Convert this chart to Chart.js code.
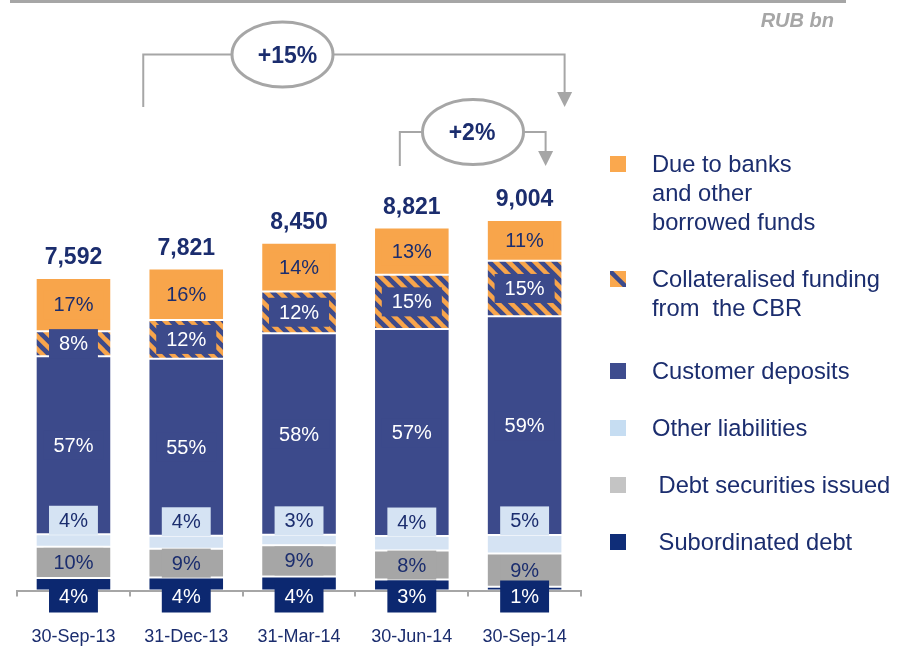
<!DOCTYPE html>
<html>
<head>
<meta charset="utf-8">
<script src="https://cdn.jsdelivr.net/npm/chart.js@4/dist/chart.umd.min.js"></script>
<style>
  html, body { margin: 0; padding: 0; background: #ffffff; }
  #wrap { position: relative; width: 906px; height: 649px; }
</style>
</head>
<body>
<div id="wrap"><canvas id="funding" width="906" height="649"></canvas></div>
<script>
// Liabilities structure, RUB bn, by reporting date
const categories = ['30-Sep-13', '31-Dec-13', '31-Mar-14', '30-Jun-14', '30-Sep-14'];
const totals = [7592, 7821, 8450, 8821, 9004];

// Shares of total liabilities, %, stacked bottom to top
const pctSubordinated = [4, 4, 4, 3, 1];
const pctDebtSecurities = [10, 9, 9, 8, 9];
const pctOtherLiabilities = [4, 4, 3, 4, 5];
const pctCustomerDeposits = [57, 55, 58, 57, 59];
const pctCbrFunding = [8, 12, 12, 15, 15];
const pctDueToBanks = [17, 16, 14, 13, 11];

// Growth call-outs: from index, to index, text
const growthFrom = [1, 3];
const growthTo = [4, 4];
const growthText = ['+15%', '+2%'];

const unitLabel = 'RUB bn';

const FONT = '"Liberation Sans", Arial, Helvetica, sans-serif';
const INK = '#1B2D6E';
const GREY = '#A6A6A6';
const ORANGE = '#F8A54B';
const BLUE = '#3C4A8B';

const amounts = pct => pct.map((p, i) => totals[i] * p / 100);

// Diagonal orange stripes on blue for the CBR funding segment
function stripePattern() {
  const p = 13;
  const c = document.createElement('canvas');
  c.width = p; c.height = p;
  const g = c.getContext('2d');
  g.fillStyle = BLUE;
  g.fillRect(0, 0, p, p);
  g.strokeStyle = ORANGE;
  g.lineWidth = 4.5;
  g.lineCap = 'square';
  for (let k = -1; k <= 1; k++) {
    g.beginPath();
    g.moveTo(0, k * p);
    g.lineTo(p, p + k * p);
    g.stroke();
  }
  return g.createPattern(c, 'repeat');
}

const seg = (name, pct, fill, legendFill, labelFill, labelInk, anchor, shift) => ({
  label: name.join(' '),
  legendLines: name,
  pct: pct,
  data: amounts(pct),
  backgroundColor: fill,
  legendFill: legendFill,
  labelFill: labelFill,
  labelInk: labelInk,
  labelAnchor: anchor,
  labelShift: shift,
  borderWidth: 1,
  borderColor: 'rgba(255,255,255,0.3)',
  borderSkipped: false,
  barPercentage: 0.67,
  categoryPercentage: 1.0
});

const datasets = [
  seg([' Subordinated debt'], pctSubordinated, '#0C2870', '#0F2D78', '#0C2870', '#ffffff', 'base', 6),
  seg([' Debt securities issued'], pctDebtSecurities, '#A6A6A6', '#C4C4C4', '#A6A6A6', INK, 'center', 0),
  seg(['Other liabilities'], pctOtherLiabilities, '#D5E3F3', '#C6DDF2', '#D5E3F3', INK, 'top', -14),
  seg(['Customer deposits'], pctCustomerDeposits, BLUE, '#3E4C8E', BLUE, '#ffffff', 'center', 0),
  seg(['Collateralised funding', 'from  the CBR'], pctCbrFunding, stripePattern(), 'hatch', BLUE, '#ffffff', 'center', 0),
  seg(['Due to banks', 'and other', 'borrowed funds'], pctDueToBanks, ORANGE, '#FAA84E', ORANGE, INK, 'center', 0)
];

// Percentage boxes inside the segments and totals above the bars
const segmentLabels = {
  id: 'segmentLabels',
  afterDatasetsDraw(chart) {
    const ctx = chart.ctx;
    ctx.save();
    ctx.textAlign = 'center';
    ctx.textBaseline = 'middle';
    for (let d = chart.data.datasets.length - 1; d >= 0; d--) {
      const ds = chart.data.datasets[d];
      const meta = chart.getDatasetMeta(d);
      meta.data.forEach((el, i) => {
        const top = Math.min(el.y, el.base);
        const bottom = Math.max(el.y, el.base);
        let cy = (top + bottom) / 2;
        if (ds.labelAnchor === 'top') cy = top + ds.labelShift;
        if (ds.labelAnchor === 'base') cy = bottom + ds.labelShift;
        const text = ds.pct[i] + '%';
        ctx.font = '20px ' + FONT;
        const w = ctx.measureText(text).width + 20;
        const h = ds.labelAnchor === 'base' ? 32 : 29;
        ctx.fillStyle = ds.labelFill;
        ctx.fillRect(el.x - w / 2, cy - h / 2, w, h);
        ctx.fillStyle = ds.labelInk;
        ctx.fillText(text, el.x, cy + 1);
      });
    }
    const topMeta = chart.getDatasetMeta(chart.data.datasets.length - 1);
    ctx.font = 'bold 23px ' + FONT;
    ctx.fillStyle = INK;
    topMeta.data.forEach((el, i) => {
      ctx.fillText(totals[i].toLocaleString('en-US'), el.x, Math.min(el.y, el.base) - 20);
    });
    ctx.restore();
  }
};

// Legend, unit caption, header rule and growth call-outs
const decorations = {
  id: 'decorations',
  afterDraw(chart) {
    const ctx = chart.ctx;
    ctx.save();

    // header rule
    ctx.strokeStyle = GREY;
    ctx.lineWidth = 3;
    ctx.beginPath();
    ctx.moveTo(10, 1.5);
    ctx.lineTo(846, 1.5);
    ctx.stroke();

    // unit caption
    ctx.font = 'italic bold 20px ' + FONT;
    ctx.fillStyle = GREY;
    ctx.textAlign = 'right';
    ctx.textBaseline = 'middle';
    ctx.fillText(unitLabel, 834, 21);

    // legend, top series first
    const lx = 610, tx = 652, lineH = 29;
    let ly = 164;
    ctx.textAlign = 'left';
    ctx.font = '23.7px ' + FONT;
    for (let d = chart.data.datasets.length - 1; d >= 0; d--) {
      const ds = chart.data.datasets[d];
      const s = 16;
      const mx = lx, my = ly - 8;
      if (ds.legendFill === 'hatch') {
        ctx.fillStyle = '#FAA84E';
        ctx.fillRect(mx, my, s, s);
        ctx.save();
        ctx.beginPath();
        ctx.rect(mx, my, s, s);
        ctx.clip();
        ctx.strokeStyle = BLUE;
        ctx.lineWidth = 4.5;
        ctx.beginPath();
        ctx.moveTo(mx - 2, my - 2);
        ctx.lineTo(mx + s + 2, my + s + 2);
        ctx.stroke();
        ctx.restore();
      } else {
        ctx.fillStyle = ds.legendFill;
        ctx.fillRect(mx, my, s, s);
      }
      ctx.fillStyle = INK;
      ds.legendLines.forEach((line, k) => ctx.fillText(line, tx, ly + k * lineH + 1));
      ly += ds.legendLines.length * lineH + 28 + (ds.legendLines.length === 2 ? 6 : 0);
    }

    // growth call-outs
    const xs = chart.scales.x;
    const callouts = [
      { y: 54.5, drop: 107, left: xs.getPixelForValue(growthFrom[0]) - 43, right: xs.getPixelForValue(growthTo[0]) + 40, cx: 282.5, dx: 5 },
      { y: 132, drop: 166, left: xs.getPixelForValue(growthFrom[1]) - 12, right: xs.getPixelForValue(growthTo[1]) + 21, cx: 473, dx: -1 }
    ];
    callouts.forEach((c, k) => {
      ctx.strokeStyle = GREY;
      ctx.fillStyle = GREY;
      ctx.lineWidth = 2;
      ctx.beginPath();
      ctx.moveTo(c.left, c.drop);
      ctx.lineTo(c.left, c.y);
      ctx.lineTo(c.right, c.y);
      ctx.lineTo(c.right, c.drop - 14);
      ctx.stroke();
      ctx.beginPath();
      ctx.moveTo(c.right - 7.5, c.drop - 15);
      ctx.lineTo(c.right + 7.5, c.drop - 15);
      ctx.lineTo(c.right, c.drop);
      ctx.closePath();
      ctx.fill();
      ctx.beginPath();
      ctx.ellipse(c.cx, c.y, 50.5, 32.5, 0, 0, Math.PI * 2);
      ctx.fillStyle = '#ffffff';
      ctx.fill();
      ctx.lineWidth = 3;
      ctx.stroke();
      ctx.font = 'bold 23px ' + FONT;
      ctx.fillStyle = INK;
      ctx.textAlign = 'center';
      ctx.fillText(growthText[k], c.cx + c.dx, c.y + 2);
    });

    ctx.restore();
  }
};

new Chart(document.getElementById('funding'), {
  type: 'bar',
  data: { labels: categories, datasets: datasets },
  options: {
    responsive: false,
    animation: false,
    events: [],
    layout: { padding: { left: 14.4, right: 325, top: 178.9, bottom: 0 } },
    plugins: { legend: { display: false }, tooltip: { enabled: false } },
    scales: {
      x: {
        stacked: true,
        offset: true,
        grid: { display: true, offset: true, drawOnChartArea: false, drawTicks: true, tickLength: 6, color: GREY, lineWidth: 2 },
        border: { display: true, color: GREY, width: 2 },
        ticks: { color: INK, font: { size: 18, family: FONT }, padding: 30, maxRotation: 0, autoSkip: false },
        afterFit(scale) { scale.height = 58.5; }
      },
      y: { stacked: true, display: false, min: 0, max: 10000 }
    }
  },
  plugins: [segmentLabels, decorations]
});
</script>
</body>
</html>
